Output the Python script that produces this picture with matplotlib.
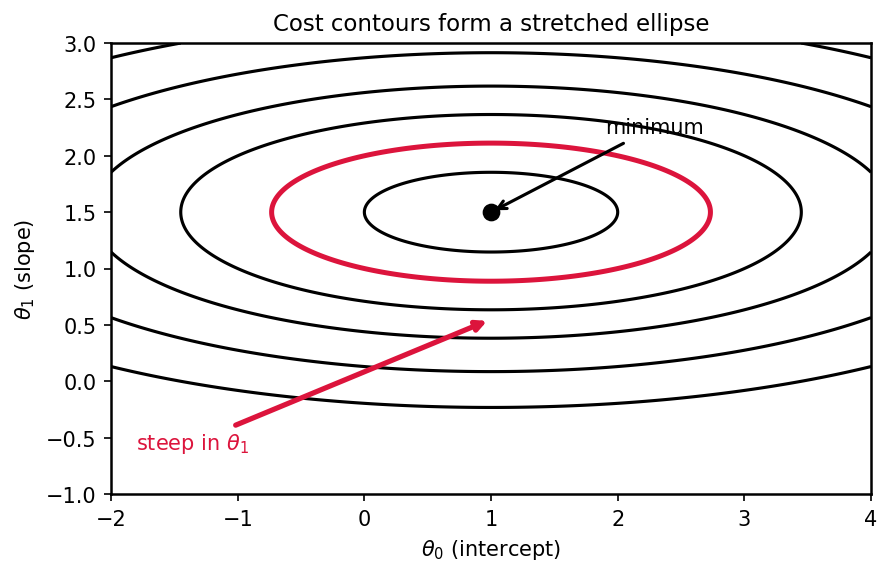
import numpy as np
import matplotlib
matplotlib.use('Agg')
import matplotlib.pyplot as plt

# Cost surface: J = (t0 - 1)^2 + 8 (t1 - 1.5)^2
CENTER = (1.0, 1.5)
STRETCH = 8.0
LEVELS = [1, 3, 6, 10, 16, 24]
HIGHLIGHT = 3
X_RANGE = (-2, 4)
Y_RANGE = (-1, 3)

RED = '#dc143c'

t0 = np.linspace(X_RANGE[0], X_RANGE[1], 600)
t1 = np.linspace(Y_RANGE[0], Y_RANGE[1], 600)
T0, T1 = np.meshgrid(t0, t1)
J = (T0 - CENTER[0]) ** 2 + STRETCH * (T1 - CENTER[1]) ** 2

fig = plt.figure(figsize=(5.94, 3.833), dpi=150)
ax = fig.add_axes([0.1246, 0.1391, 0.853, 0.7844])

black_levels = [l for l in LEVELS if l != HIGHLIGHT]
ax.contour(T0, T1, J, levels=black_levels, colors='black', linewidths=1.5)
ax.contour(T0, T1, J, levels=[HIGHLIGHT], colors=RED, linewidths=2.4)

ax.plot(*CENTER, 'o', color='black', markersize=7.5)

ax.annotate('minimum', xy=CENTER, xytext=(1.9, 2.2),
            arrowprops=dict(arrowstyle='->', color='black', lw=1.5))
ax.annotate(r'steep in $\theta_1$', xy=(1.0, 0.55), xytext=(-1.8, -0.6),
            color=RED,
            arrowprops=dict(arrowstyle='-|>', color=RED, lw=2.5))

ax.set_xlim(*X_RANGE)
ax.set_ylim(*Y_RANGE)
ax.set_xlabel(r'$\theta_0$ (intercept)')
ax.set_ylabel(r'$\theta_1$ (slope)')
ax.set_title('Cost contours form a stretched ellipse', fontsize=11)
for s in ax.spines.values():
    s.set_linewidth(1.2)

fig.savefig('out.png', dpi=150)
